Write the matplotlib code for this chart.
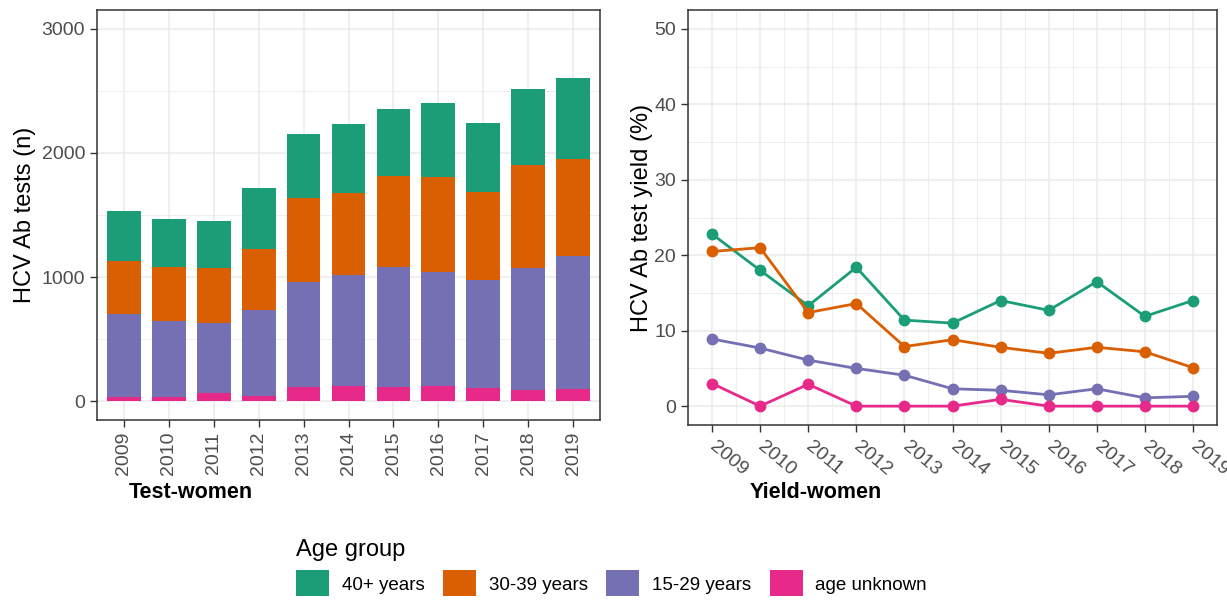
"""HCV Ab tests and test yield among women, by age group, 2009-2019"""

import matplotlib
matplotlib.use("Agg")
import matplotlib.pyplot as plt
import numpy as np
from matplotlib.patches import Patch
from matplotlib.ticker import MultipleLocator

plt.rcParams["font.family"] = ["Liberation Sans", "DejaVu Sans"]

years = [2009, 2010, 2011, 2012, 2013, 2014, 2015, 2016, 2017, 2018, 2019]
groups = ["40+ years", "30-39 years", "15-29 years", "age unknown"]
colors = ["#1B9E77", "#D95F02", "#7570B3", "#E7298A"]

# number of tests (stacked, bottom to top: unknown, 15-29, 30-39, 40+)
tests_unknown = [32, 32, 64, 43, 112, 124, 116, 124, 107, 88, 102]
tests_15_29 = [675, 614, 566, 693, 852, 896, 966, 920, 873, 988, 1068]
tests_30_39 = [423, 434, 441, 490, 674, 656, 731, 763, 704, 828, 777]
tests_40 = [402, 390, 380, 490, 512, 560, 544, 598, 557, 610, 653]

# yield (%)
yield_40 = [22.8, 18.0, 13.3, 18.4, 11.4, 11.0, 14.0, 12.7, 16.5, 11.9, 14.0]
yield_30_39 = [20.5, 21.0, 12.4, 13.6, 7.9, 8.8, 7.8, 7.0, 7.8, 7.2, 5.1]
yield_15_29 = [8.9, 7.7, 6.1, 5.0, 4.1, 2.3, 2.1, 1.5, 2.3, 1.1, 1.3]
yield_unknown = [3.0, 0.0, 2.9, 0.0, 0.0, 0.0, 0.9, 0.0, 0.0, 0.0, 0.0]

TICK_COL = "#4D4D4D"
GRID_COL = "#EBEBEB"
FRAME_COL = "#333333"


def style_axes(ax):
    """theme_bw-ish look"""
    ax.set_axisbelow(True)
    for sp in ax.spines.values():
        sp.set_color(FRAME_COL)
        sp.set_linewidth(1.1)
    ax.grid(which="major", color=GRID_COL, linewidth=1.1)
    ax.grid(which="minor", color=GRID_COL, linewidth=0.6)
    ax.tick_params(which="major", length=5, width=1.0, color=FRAME_COL,
                   labelsize=14, labelcolor=TICK_COL)
    ax.tick_params(which="minor", length=0)


def draw_tests(ax):
    """Stacked bars, left panel"""
    x = np.arange(len(years))
    stack = [tests_unknown, tests_15_29, tests_30_39, tests_40]
    cols = [colors[3], colors[2], colors[1], colors[0]]
    bottom = np.zeros(len(years))
    for vals, col in zip(stack, cols):
        ax.bar(x, vals, width=0.75, bottom=bottom, color=col, zorder=2)
        bottom += np.array(vals)

    style_axes(ax)
    ax.set_xlim(-0.6, len(years) - 0.4)
    ax.set_ylim(-150, 3150)
    ax.yaxis.set_major_locator(MultipleLocator(1000))
    ax.yaxis.set_minor_locator(MultipleLocator(500))
    ax.set_xticks(x)
    ax.set_xticklabels([str(y) for y in years], rotation=90)
    ax.set_ylabel("HCV Ab tests (n)", fontsize=17, labelpad=4)


def draw_yield(ax):
    """Lines + points, right panel"""
    series = [yield_40, yield_30_39, yield_15_29, yield_unknown]
    for vals, col in zip(series, colors):
        ax.plot(years, vals, color=col, linewidth=2.0, marker="o",
                markersize=7.5, zorder=3)

    style_axes(ax)
    ax.set_xlim(2008.5, 2019.5)
    ax.set_ylim(-2.5, 52.5)
    ax.yaxis.set_major_locator(MultipleLocator(10))
    ax.yaxis.set_minor_locator(MultipleLocator(5))
    ax.set_xticks(years)
    ax.xaxis.set_minor_locator(MultipleLocator(0.5))
    ax.set_xticklabels([str(y) for y in years], rotation=-40,
                       ha="left", va="center", rotation_mode="anchor")
    ax.tick_params(axis="x", pad=9)
    ax.set_ylabel("HCV Ab test yield (%)", fontsize=17, labelpad=1)


def main():
    fig = plt.figure(figsize=(12.27, 6.0), dpi=100)
    ax1 = fig.add_axes([97 / 1227, 1 - 420 / 600, 503 / 1227, 410 / 600])
    ax2 = fig.add_axes([688 / 1227, 1 - 425 / 600, 529 / 1227, 415 / 600])

    draw_tests(ax1)
    draw_yield(ax2)

    fig.text(129 / 1227, 1 - 493 / 600, "Test-women", fontsize=15.5,
             fontweight="bold", ha="left", va="center")
    fig.text(750 / 1227, 1 - 493 / 600, "Yield-women", fontsize=15.5,
             fontweight="bold", ha="left", va="center")

    handles = [Patch(facecolor=c, edgecolor="none") for c in colors]
    leg = fig.legend(handles, groups, loc="lower left",
                     bbox_to_anchor=(296 / 1227, 0.006), ncol=4,
                     frameon=False, fontsize=13.5, title="Age group",
                     title_fontsize=17, alignment="left",
                     handlelength=1.76, handleheight=1.75,
                     handletextpad=0.67, columnspacing=1.0, borderpad=0.0,
                     borderaxespad=0.0)
    leg.get_title().set_color("black")

    fig.savefig("out.png", dpi=100)


if __name__ == "__main__":
    main()
